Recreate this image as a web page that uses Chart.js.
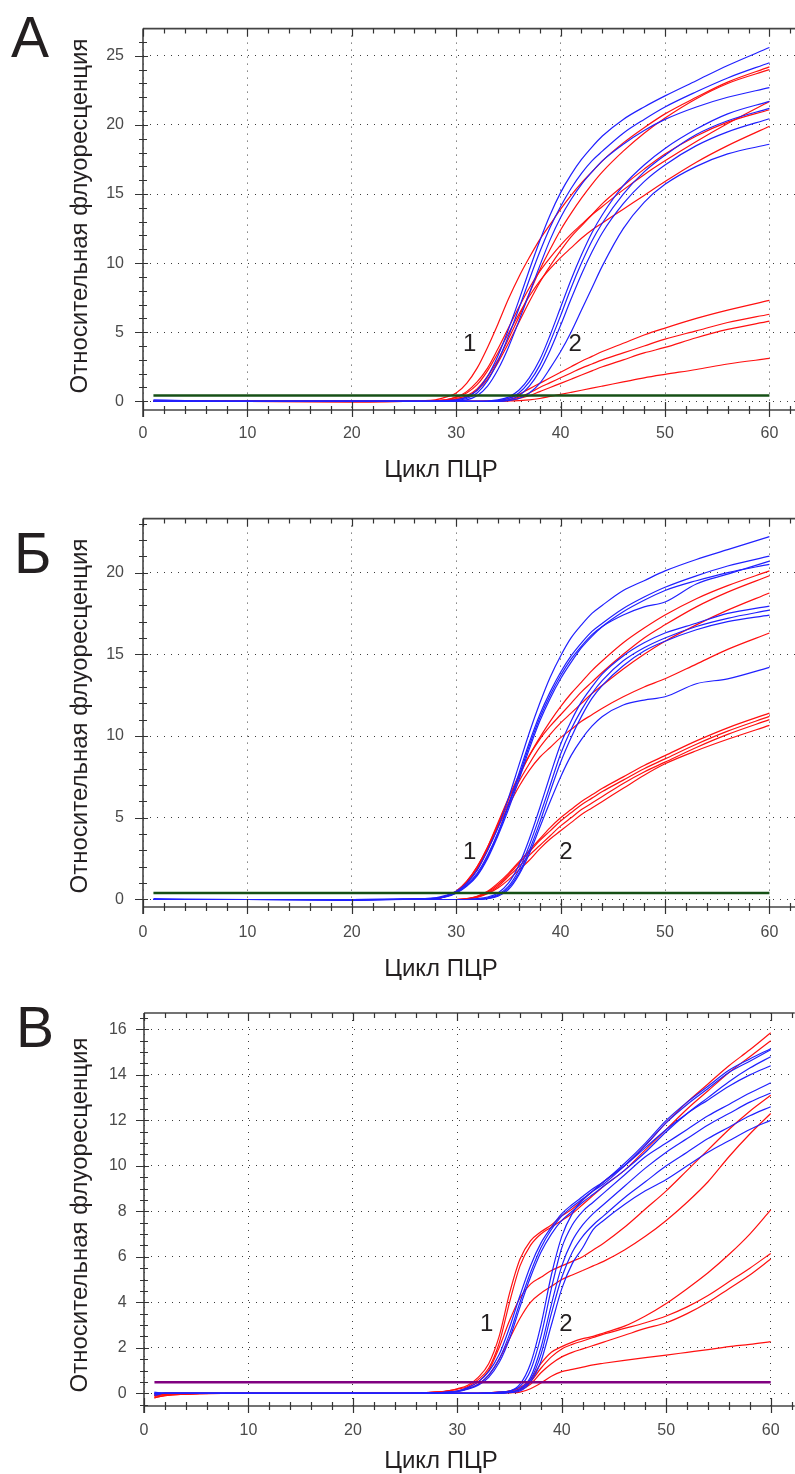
<!DOCTYPE html>
<html lang="ru">
<head>
<meta charset="utf-8">
<title>Кривые ПЦР</title>
<script src="https://cdn.jsdelivr.net/npm/chart.js@4.4.1/dist/chart.umd.min.js"></script>
<style>
  html, body { margin: 0; padding: 0; background: #fff; }
  #wrap { position: relative; width: 795px; height: 1474px; overflow: hidden; }
  canvas { position: absolute; left: 0; }
</style>
</head>
<body>
<div id="wrap">
  <canvas id="chartA" width="795" height="490" style="top:0"></canvas>
  <canvas id="chartB" width="795" height="490" style="top:490px"></canvas>
  <canvas id="chartV" width="795" height="494" style="top:980px"></canvas>
</div>
<script>
// Циклы, в которых сняты значения кривых
const cyclesAB = [1, 10, 20, 25, 28, 29, 30, 31, 32, 33, 34, 35, 36, 37, 38, 39, 40, 41, 42, 43, 44, 46, 48, 50, 53, 56, 60];
const cyclesV = [1, 2, 10, 20, 25, 28, 29, 30, 31, 32, 33, 34, 35, 36, 37, 38, 39, 40, 41, 42, 43, 44, 46, 48, 50, 52, 54, 56, 58, 60];

// Порог
const thresholdA = 0.42;
const thresholdB = 0.4;
const thresholdV = 0.48;
const thresholdCycles = [1, 60];

// Панель А
const redA1 = [0, 0, -0.05, 0, 0.1, 0.3, 0.6, 1.3, 2.4, 3.9, 5.6, 7.4, 9.0, 10.4, 11.7, 12.8, 13.9, 14.9, 15.8, 16.6, 17.4, 18.7, 19.8, 20.8, 22.0, 23.1, 24.2];
const redA2 = [0, 0, 0, 0, 0.05, 0.1, 0.3, 0.7, 1.4, 2.4, 3.8, 5.3, 6.8, 8.2, 9.4, 10.4, 11.3, 12.1, 12.8, 13.5, 14.1, 15.3, 16.4, 17.4, 18.8, 20.1, 21.7];
const redA3 = [0, 0, 0, 0, 0.05, 0.1, 0.3, 0.6, 1.2, 2.2, 3.5, 4.9, 6.3, 7.6, 8.7, 9.6, 10.4, 11.1, 11.8, 12.4, 12.9, 13.9, 14.9, 15.9, 17.3, 18.5, 19.9];
const redA4 = [0, 0, 0, 0, 0, 0.05, 0.2, 0.4, 0.9, 1.8, 3.0, 4.5, 6.1, 7.8, 9.5, 11.0, 12.4, 13.6, 14.7, 15.7, 16.6, 18.1, 19.4, 20.5, 21.9, 23.0, 24.0];
const redA5 = [0, 0, 0, 0, 0, 0.05, 0.15, 0.3, 0.8, 1.6, 2.8, 4.2, 5.7, 7.2, 8.6, 9.8, 10.9, 11.9, 12.7, 13.5, 14.3, 15.6, 16.8, 17.9, 19.2, 20.2, 21.1];
const redA6 = [0, 0, 0, 0, 0, 0, 0, 0, 0, 0.02, 0.05, 0.2, 0.5, 0.9, 1.3, 1.7, 2.1, 2.5, 2.9, 3.25, 3.6, 4.2, 4.8, 5.3, 6.0, 6.6, 7.3];
const redA7 = [0, 0, 0, 0, 0, 0, 0, 0, 0, 0, 0.03, 0.1, 0.3, 0.6, 1.0, 1.35, 1.7, 2.05, 2.4, 2.7, 3.0, 3.5, 4.0, 4.5, 5.1, 5.7, 6.3];
const redA8 = [0, 0, 0, 0, 0, 0, 0, 0, 0, 0, 0.02, 0.05, 0.2, 0.4, 0.7, 1.0, 1.3, 1.6, 1.9, 2.2, 2.5, 3.0, 3.5, 3.9, 4.6, 5.2, 5.8];
const redA9 = [0, 0, -0.05, 0, 0, 0, 0, 0, 0, 0, 0, 0.02, 0.05, 0.1, 0.2, 0.35, 0.5, 0.65, 0.8, 0.95, 1.1, 1.4, 1.7, 1.95, 2.3, 2.7, 3.1];
const blueA1 = [0.1, 0, 0, 0, 0, 0.05, 0.1, 0.3, 0.8, 1.8, 3.3, 5.2, 7.3, 9.5, 11.6, 13.5, 15.1, 16.4, 17.5, 18.4, 19.2, 20.4, 21.3, 22.1, 23.2, 24.3, 25.6];
const blueA2 = [0, 0, 0, 0, 0, 0, 0.05, 0.2, 0.6, 1.5, 2.9, 4.7, 6.7, 8.8, 10.8, 12.6, 14.1, 15.4, 16.5, 17.4, 18.1, 19.4, 20.4, 21.3, 22.4, 23.4, 24.5];
const blueA3 = [0, 0, 0, 0, 0, 0, 0.02, 0.1, 0.4, 1.1, 2.3, 3.9, 5.8, 7.8, 9.8, 11.7, 13.3, 14.6, 15.7, 16.6, 17.4, 18.6, 19.6, 20.4, 21.3, 22.0, 22.7];
const blueA4 = [0, 0, 0, 0, 0, 0, 0, 0, 0, 0.02, 0.1, 0.3, 0.8, 1.7, 3.0, 4.8, 6.8, 8.8, 10.6, 12.2, 13.5, 15.6, 17.1, 18.3, 19.7, 20.8, 21.7];
const blueA5 = [0, 0, 0, 0, 0, 0, 0, 0, 0, 0, 0.05, 0.2, 0.6, 1.4, 2.6, 4.3, 6.2, 8.2, 10.0, 11.6, 12.9, 15.0, 16.6, 17.8, 19.3, 20.3, 21.2];
const blueA6 = [0, 0, 0, 0, 0, 0, 0, 0, 0, 0, 0, 0.1, 0.4, 1.1, 2.2, 3.7, 5.5, 7.4, 9.2, 10.8, 12.2, 14.3, 15.9, 17.1, 18.5, 19.5, 20.45];
const blueA7 = [0, 0, 0, 0, 0, 0, 0, 0, 0, 0, 0, 0.05, 0.2, 0.6, 1.3, 2.4, 3.6, 5.0, 6.6, 8.2, 9.8, 12.5, 14.4, 15.7, 17.0, 17.9, 18.6];

// Панель Б
const redB1 = [0, 0, 0, 0, 0.05, 0.2, 0.5, 1.1, 2.0, 3.2, 4.6, 6.1, 7.5, 8.8, 9.9, 10.9, 11.8, 12.6, 13.3, 14.0, 14.6, 15.7, 16.6, 17.4, 18.4, 19.2, 20.1];
const redB2 = [0, 0, 0, 0, 0.05, 0.2, 0.5, 1.1, 2.0, 3.2, 4.7, 6.2, 7.6, 8.8, 9.8, 10.6, 11.3, 12.0, 12.7, 13.3, 13.9, 15.0, 16.0, 16.8, 17.9, 18.8, 19.8];
const redB3 = [0, 0, 0, 0, 0.05, 0.18, 0.45, 1.0, 1.9, 3.1, 4.5, 5.9, 7.2, 8.3, 9.3, 10.1, 10.8, 11.4, 12.0, 12.6, 13.1, 14.1, 15.0, 15.8, 16.8, 17.7, 18.75];
const redB4 = [0, 0, 0, 0, 0.05, 0.18, 0.45, 1.0, 1.8, 3.0, 4.4, 5.7, 6.9, 7.9, 8.7, 9.3, 9.9, 10.4, 10.9, 11.3, 11.7, 12.4, 13.0, 13.5, 14.4, 15.3, 16.3];
const redB5 = [0, 0, 0, 0, 0, 0, 0, 0.05, 0.2, 0.5, 1.0, 1.6, 2.3, 3.0, 3.7, 4.4, 5.0, 5.5, 6.0, 6.4, 6.8, 7.5, 8.2, 8.8, 9.7, 10.5, 11.4];
const redB6 = [0, 0, 0, 0, 0, 0, 0, 0.04, 0.18, 0.45, 0.9, 1.5, 2.2, 2.9, 3.6, 4.2, 4.8, 5.3, 5.8, 6.2, 6.6, 7.3, 8.0, 8.6, 9.5, 10.3, 11.2];
const redB7 = [0, 0, 0, 0, 0, 0, 0, 0.03, 0.15, 0.4, 0.8, 1.4, 2.0, 2.7, 3.3, 3.9, 4.5, 5.0, 5.5, 5.9, 6.3, 7.1, 7.8, 8.4, 9.3, 10.1, 11.0];
const redB8 = [0, 0, 0, 0, 0, 0, 0, 0.02, 0.12, 0.35, 0.7, 1.2, 1.8, 2.4, 3.1, 3.7, 4.2, 4.7, 5.2, 5.6, 6.0, 6.8, 7.6, 8.3, 9.1, 9.8, 10.65];
const blueB1 = [0.05, 0, 0, 0.02, 0.1, 0.25, 0.5, 1.0, 1.8, 3.0, 4.4, 6.2, 8.2, 10.2, 12.0, 13.6, 14.9, 16.0, 16.8, 17.5, 18.0, 18.9, 19.5, 20.1, 20.8, 21.4, 22.2];
const blueB2 = [0, 0, 0, 0.02, 0.08, 0.2, 0.45, 0.9, 1.6, 2.7, 4.1, 5.8, 7.7, 9.6, 11.3, 12.7, 13.9, 14.9, 15.7, 16.4, 16.9, 17.8, 18.5, 19.1, 19.8, 20.4, 21.0];
const blueB3 = [0, 0, -0.05, 0.02, 0.07, 0.18, 0.4, 0.85, 1.5, 2.6, 4.0, 5.7, 7.5, 9.4, 11.1, 12.5, 13.7, 14.7, 15.5, 16.2, 16.7, 17.4, 17.9, 18.2, 19.3, 19.9, 20.7];
const blueB4 = [0, 0, 0, 0.02, 0.06, 0.15, 0.38, 0.8, 1.45, 2.5, 3.9, 5.5, 7.3, 9.2, 10.9, 12.3, 13.5, 14.5, 15.4, 16.1, 16.7, 17.6, 18.3, 18.9, 19.5, 20.0, 20.5];
const blueB5 = [0, 0, 0, 0, 0, 0, 0, 0, 0.05, 0.15, 0.4, 1.0, 2.1, 3.7, 5.6, 7.6, 9.5, 10.9, 12.1, 13.0, 13.8, 14.9, 15.7, 16.3, 16.9, 17.5, 17.95];
const blueB6 = [0, 0, 0, 0, 0, 0, 0, 0, 0, 0.1, 0.3, 0.8, 1.8, 3.3, 5.1, 7.0, 8.9, 10.4, 11.6, 12.6, 13.4, 14.6, 15.4, 16.0, 16.7, 17.2, 17.7];
const blueB7 = [0, 0, 0, 0, 0, 0, 0, 0, 0, 0.05, 0.25, 0.7, 1.6, 3.0, 4.7, 6.6, 8.4, 9.9, 11.2, 12.3, 13.1, 14.3, 15.2, 15.8, 16.5, 17.0, 17.4];
const blueB8 = [0, 0, -0.05, 0, 0, 0, 0, 0, 0, 0.05, 0.2, 0.6, 1.5, 2.8, 4.4, 6.0, 7.5, 8.8, 9.8, 10.6, 11.2, 11.9, 12.2, 12.4, 13.2, 13.5, 14.2];

// Панель В
const redV1 = [-0.15, -0.05, 0, 0, 0, 0.05, 0.1, 0.2, 0.35, 0.7, 1.3, 2.5, 4.4, 5.9, 6.7, 7.1, 7.4, 7.8, 8.1, 8.5, 8.9, 9.3, 10.0, 10.9, 11.9, 12.8, 13.6, 14.4, 15.1, 15.85];
const redV2 = [-0.1, -0.05, 0, 0, 0, 0.05, 0.1, 0.18, 0.3, 0.6, 1.1, 2.2, 4.0, 5.6, 6.5, 7.0, 7.3, 7.6, 7.9, 8.3, 8.7, 9.1, 9.8, 10.7, 11.6, 12.5, 13.3, 14.1, 14.8, 15.5];
const redV3 = [-0.2, -0.1, 0, 0, 0, 0.05, 0.08, 0.1, 0.25, 0.5, 1.0, 2.0, 3.2, 4.2, 4.8, 5.1, 5.4, 5.6, 5.8, 6.0, 6.3, 6.6, 7.3, 8.1, 8.9, 9.8, 10.7, 11.6, 12.4, 13.1];
const redV4 = [-0.2, -0.1, 0, 0, 0, 0.05, 0.08, 0.1, 0.2, 0.4, 0.8, 1.5, 2.4, 3.3, 4.0, 4.4, 4.7, 5.0, 5.2, 5.4, 5.6, 5.8, 6.3, 6.9, 7.6, 8.4, 9.3, 10.4, 11.4, 12.3];
const redV5 = [-0.1, 0, 0, 0, 0, 0, 0, 0, 0, 0, 0.02, 0.05, 0.1, 0.25, 0.6, 1.3, 1.8, 2.05, 2.25, 2.4, 2.5, 2.65, 2.95, 3.4, 3.95, 4.6, 5.3, 6.1, 7.0, 8.06];
const redV6 = [-0.1, 0, 0, 0, 0, 0, 0, 0, 0, 0, 0.02, 0.05, 0.1, 0.2, 0.5, 1.1, 1.6, 1.95, 2.15, 2.3, 2.45, 2.6, 2.85, 3.1, 3.4, 3.8, 4.3, 4.9, 5.5, 6.15];
const redV7 = [-0.05, 0, 0, 0, 0, 0, 0, 0, 0, 0, 0, 0.02, 0.05, 0.15, 0.4, 0.9, 1.3, 1.6, 1.8, 1.95, 2.1, 2.25, 2.55, 2.85, 3.1, 3.5, 4.0, 4.6, 5.2, 5.9];
const redV8 = [-0.05, 0, 0, 0, 0, 0, 0, 0, 0, 0, 0, 0, 0.02, 0.05, 0.2, 0.45, 0.75, 0.95, 1.05, 1.15, 1.25, 1.32, 1.45, 1.57, 1.68, 1.8, 1.92, 2.05, 2.15, 2.27];
const blueV1 = [-0.1, 0, 0, 0, 0, 0.02, 0.05, 0.1, 0.25, 0.5, 0.95, 1.7, 2.9, 4.3, 5.6, 6.6, 7.3, 7.9, 8.3, 8.65, 9.0, 9.3, 10.1, 11.0, 12.0, 12.8, 13.5, 14.2, 14.7, 15.15];
const blueV2 = [-0.05, 0, 0, 0, 0, 0.02, 0.04, 0.08, 0.2, 0.4, 0.8, 1.5, 2.6, 4.0, 5.3, 6.4, 7.2, 7.8, 8.2, 8.55, 8.9, 9.2, 10.0, 10.9, 11.9, 12.7, 13.4, 14.1, 14.6, 15.1];
const blueV3 = [0, 0, 0, 0, 0, 0.02, 0.04, 0.07, 0.18, 0.35, 0.7, 1.35, 2.4, 3.8, 5.1, 6.2, 7.0, 7.6, 8.0, 8.4, 8.75, 9.1, 9.8, 10.6, 11.5, 12.3, 13.0, 13.7, 14.3, 14.8];
const blueV4 = [0.05, 0, 0, 0, 0, 0, 0, 0, 0, 0, 0.02, 0.05, 0.1, 0.4, 1.3, 3.0, 5.2, 6.9, 7.9, 8.5, 8.9, 9.3, 10.0, 10.8, 11.6, 12.3, 12.9, 13.5, 14.0, 14.4];
const blueV5 = [0, 0, 0, 0, 0, 0, 0, 0, 0, 0, 0, 0.05, 0.1, 0.3, 1.0, 2.5, 4.6, 6.4, 7.4, 8.0, 8.4, 8.8, 9.6, 10.4, 11.0, 11.6, 12.2, 12.7, 13.2, 13.65];
const blueV6 = [0, 0, 0, 0, 0, 0, 0, 0, 0, 0, 0, 0, 0.05, 0.2, 0.7, 2.0, 3.9, 5.6, 6.7, 7.4, 7.9, 8.3, 9.1, 9.9, 10.6, 11.2, 11.8, 12.3, 12.8, 13.2];
const blueV7 = [0, 0, 0, 0, 0, 0, 0, 0, 0, 0, 0, 0, 0.05, 0.15, 0.6, 1.7, 3.5, 5.1, 6.2, 6.9, 7.4, 7.8, 8.6, 9.3, 10.0, 10.6, 11.2, 11.7, 12.2, 12.6];
const blueV8 = [0, 0, 0, 0, 0, 0, 0, 0, 0, 0, 0, 0, 0.03, 0.1, 0.5, 1.4, 3.0, 4.6, 5.7, 6.4, 7.2, 7.6, 8.3, 8.9, 9.4, 10.0, 10.6, 11.1, 11.6, 12.0];

// Подписи
const xTitle = 'Цикл ПЦР';
const yTitle = 'Относительная флуоресценция';
const panelLetters = ['А', 'Б', 'В'];
const groupLabels = ['1', '2'];

const FONT = '"Liberation Sans", Arial, Helvetica, sans-serif';
const INK = '#231f20';
const RED = '#ff1010';
const BLUE = '#2020ff';
const GRID = '#3c3c3c';
const TICK_TEXT = '#4a4a4a';

function points(cycles, values) {
  return cycles.map((c, i) => ({ x: c, y: values[i] }));
}

// рамка, засечки и надписи
const panelDecor = {
  id: 'panelDecor',
  afterDraw(chart, args, o) {
    const { ctx, chartArea: a, scales: { x, y } } = chart;
    ctx.save();
    ctx.strokeStyle = '#454545';
    ctx.lineWidth = 1.6;
    ctx.beginPath();
    ctx.moveTo(a.left, a.top); ctx.lineTo(a.right, a.top);
    ctx.moveTo(a.left, a.top); ctx.lineTo(a.left, a.bottom + 7);
    ctx.moveTo(a.left, a.bottom); ctx.lineTo(a.right, a.bottom);
    ctx.stroke();

    ctx.strokeStyle = '#333';
    ctx.lineWidth = 1.2;
    ctx.beginPath();
    for (let k = 0; k * o.minorX <= x.max; k++) {
      const v = k * o.minorX;
      const px = Math.round(x.getPixelForValue(v)) + 0.5;
      const major = v % o.majorX === 0;
      ctx.moveTo(px, a.bottom - (major ? 8 : 4));
      ctx.lineTo(px, a.bottom + (major ? 7 : 4));
      ctx.moveTo(px, a.top);
      ctx.lineTo(px, a.top + (major ? 8 : 5));
    }
    for (let k = Math.ceil(y.min / o.minorY); k * o.minorY <= y.max; k++) {
      const v = k * o.minorY;
      const py = Math.round(y.getPixelForValue(v)) + 0.5;
      const r = v / o.majorY;
      const major = Math.abs(r - Math.round(r)) < 1e-6;
      ctx.moveTo(a.left - (major ? 8 : 4), py);
      ctx.lineTo(a.left + (major ? 5 : 4), py);
    }
    ctx.stroke();

    ctx.fillStyle = INK;
    ctx.textBaseline = 'alphabetic';
    ctx.textAlign = 'left';
    ctx.font = '57px ' + FONT;
    ctx.fillText(o.letter, o.letterX, o.letterY);

    ctx.font = '24px ' + FONT;
    ctx.textAlign = 'center';
    ctx.fillText(xTitle, o.xTitleX, o.xTitleY);
    ctx.save();
    ctx.translate(87, o.yTitleY);
    ctx.rotate(-Math.PI / 2);
    ctx.fillText(yTitle, 0, 0);
    ctx.restore();

    ctx.textBaseline = 'middle';
    o.marks.forEach(m => ctx.fillText(m.text, x.getPixelForValue(m.x), y.getPixelForValue(m.y)));
    ctx.restore();
  }
};

function makeChart(id, p) {
  const datasets = [{
    data: points(thresholdCycles, thresholdCycles.map(() => p.threshold)),
    borderColor: p.thresholdColor,
    borderWidth: 2.5
  }];
  p.blues.forEach(v => datasets.push({ data: points(p.cycles, v), borderColor: BLUE, cubicInterpolationMode: 'monotone' }));
  p.reds.forEach(v => datasets.push({ data: points(p.cycles, v), borderColor: RED, cubicInterpolationMode: 'monotone' }));

  const tickFont = { family: FONT, size: 16 };
  return new Chart(document.getElementById(id), {
    type: 'line',
    data: { datasets },
    options: {
      responsive: false,
      animation: false,
      events: [],
      layout: { padding: { top: p.top, left: 0, right: 0, bottom: 0 } },
      elements: { point: { radius: 0 }, line: { borderWidth: 1.2, fill: false } },
      plugins: {
        legend: { display: false },
        tooltip: { enabled: false },
        panelDecor: {
          letter: p.letter, letterX: p.letterX, letterY: p.letterY,
          xTitleX: 441, xTitleY: p.xTitleY, yTitleY: p.yTitleY,
          minorX: 2, majorX: 10, minorY: p.minorY, majorY: p.majorY,
          marks: p.marks
        }
      },
      scales: {
        x: {
          type: 'linear', min: 0, max: p.xMax,
          afterFit: s => { s.height = p.xAxisHeight; },
          grid: { color: GRID, lineWidth: 1, drawTicks: false },
          border: { display: false, dash: [1, 6] },
          ticks: { stepSize: 10, includeBounds: false, padding: p.xPad, color: TICK_TEXT, font: tickFont, maxRotation: 0, autoSkip: false }
        },
        y: {
          type: 'linear', min: p.yMin, max: p.yMax,
          afterFit: s => { s.width = p.yAxisWidth; },
          grid: { color: GRID, lineWidth: 1, drawTicks: false },
          border: { display: false, dash: [1, 6] },
          ticks: { stepSize: p.majorY, includeBounds: false, padding: p.yPad, color: TICK_TEXT, font: tickFont, autoSkip: false }
        }
      }
    },
    plugins: [panelDecor]
  });
}

makeChart('chartA', {
  cycles: cyclesAB,
  blues: [blueA1, blueA2, blueA3, blueA4, blueA5, blueA6, blueA7],
  reds: [redA1, redA2, redA3, redA4, redA5, redA6, redA7, redA8, redA9],
  threshold: thresholdA, thresholdColor: '#165016',
  top: 15, xAxisHeight: 80, yAxisWidth: 143,
  xMax: 62.45, yMin: -0.63, yMax: 26.97, majorY: 5, minorY: 1,
  xPad: 14.4, yPad: 19,
  letter: panelLetters[0], letterX: 11, letterY: 57,
  xTitleY: 477, yTitleY: 216,
  marks: [{ text: groupLabels[0], x: 31.3, y: 4.1 }, { text: groupLabels[1], x: 41.4, y: 4.1 }]
});

makeChart('chartB', {
  cycles: cyclesAB,
  blues: [blueB1, blueB2, blueB3, blueB4, blueB5, blueB6, blueB7, blueB8],
  reds: [redB1, redB2, redB3, redB4, redB5, redB6, redB7, redB8],
  threshold: thresholdB, thresholdColor: '#165016',
  top: 23, xAxisHeight: 73, yAxisWidth: 143,
  xMax: 62.45, yMin: -0.46, yMax: 23.3, majorY: 5, minorY: 1,
  xPad: 16, yPad: 19,
  letter: panelLetters[1], letterX: 14, letterY: 83,
  xTitleY: 486, yTitleY: 226,
  marks: [{ text: groupLabels[0], x: 31.3, y: 2.9 }, { text: groupLabels[1], x: 40.5, y: 2.9 }]
});

makeChart('chartV', {
  cycles: cyclesV,
  blues: [blueV1, blueV2, blueV3, blueV4, blueV5, blueV6, blueV7, blueV8],
  reds: [redV1, redV2, redV3, redV4, redV5, redV6, redV7, redV8],
  threshold: thresholdV, thresholdColor: '#800080',
  top: 33, xAxisHeight: 68, yAxisWidth: 144,
  xMax: 62.3, yMin: -0.56, yMax: 16.72, majorY: 2, minorY: 0.5,
  xPad: 15.4, yPad: 17.3,
  letter: panelLetters[2], letterX: 16, letterY: 67,
  xTitleY: 488, yTitleY: 235,
  marks: [{ text: groupLabels[0], x: 32.8, y: 3.05 }, { text: groupLabels[1], x: 40.4, y: 3.05 }]
});
</script>
</body>
</html>
